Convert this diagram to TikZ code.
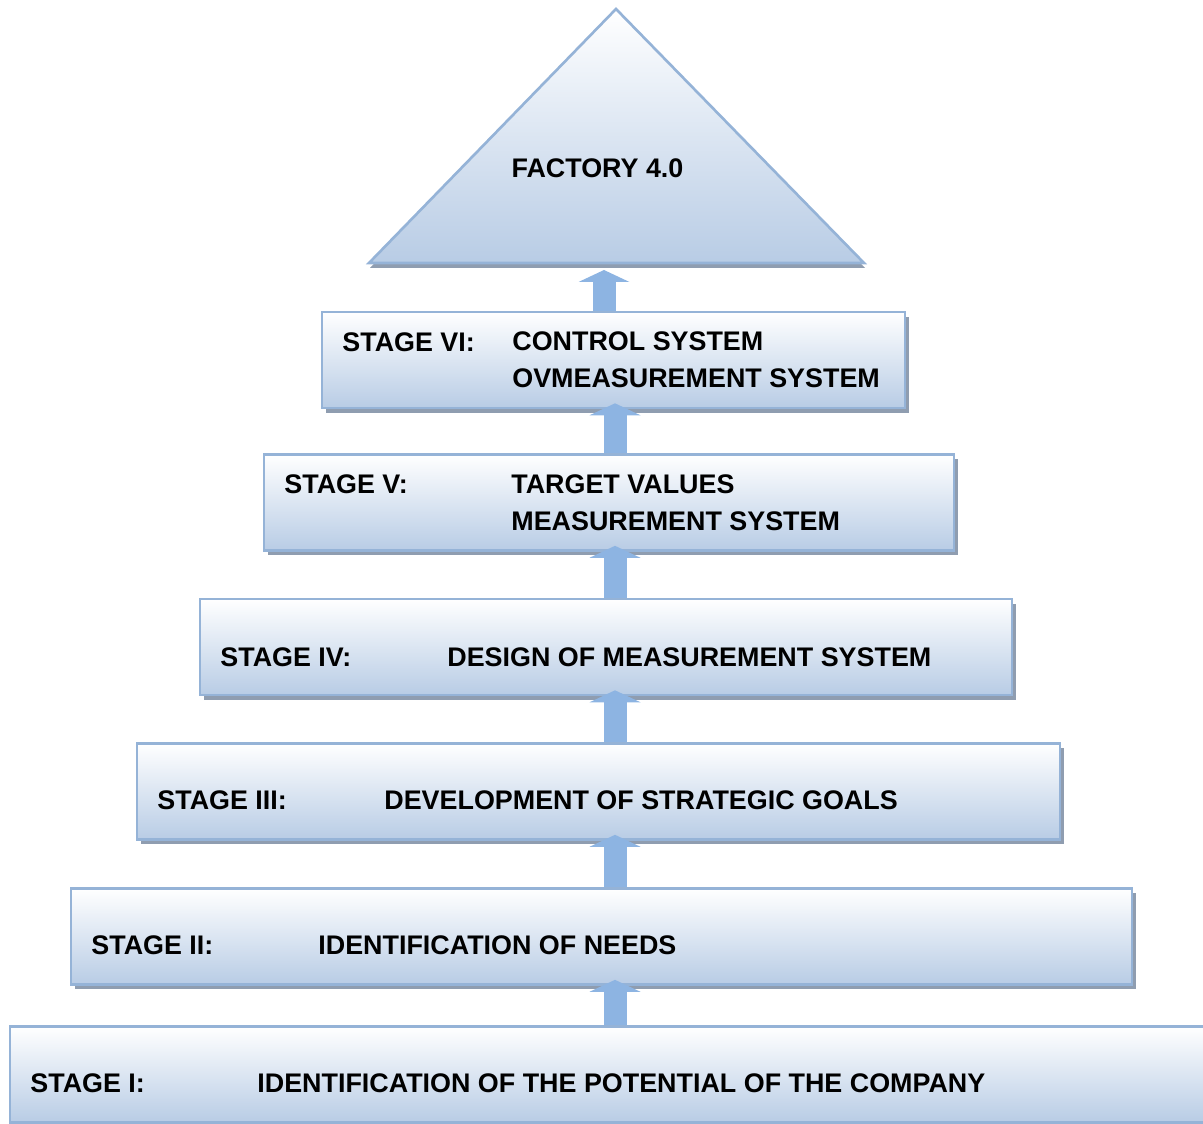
\documentclass[tikz,border=0pt]{standalone}
\usepackage{fontspec}
\setmainfont{Liberation Sans}
\usetikzlibrary{arrows.meta,shadows}
\definecolor{boxline}{RGB}{149,179,215}
\definecolor{boxfill}{RGB}{184,204,229}
\definecolor{boxshade}{RGB}{143,157,176}
\definecolor{arrowblue}{RGB}{141,180,226}
\tikzset{
  stagebox/.style={rectangle,draw=boxline,line width=0.75pt,top color=white,bottom color=boxfill,
    minimum height=0.96cm,inner sep=0pt,
    drop shadow={shadow xshift=0.04cm,shadow yshift=-0.05cm,fill=boxshade,opacity=1}},
  stagetxt/.style={inner sep=0pt,align=left,font=\bfseries\fontsize{7.65}{10.5}\selectfont},
  upar/.style={draw=arrowblue,line width=0.23cm,shorten >=-0.06cm,
    -{Triangle[width=0.51cm,length=0.12cm,line width=0pt]}}
}

\begin{document}
\begin{tikzpicture}
\useasboundingbox (0,0) rectangle (12.03,-11.24);
\shade[top color=white,bottom color=boxfill,draw=boxline,line width=0.75pt,
  drop shadow={shadow xshift=0.01cm,shadow yshift=-0.05cm,fill=boxshade,opacity=1}]
  (6.16,-0.09) -- (8.64,-2.63) -- (3.69,-2.63) -- cycle;
\node[stagetxt] (f40) at (5.975,-1.68) {FACTORY 4.0};
\coordinate (apex) at (6.04,-2.70);
\coordinate (ar) at (6.15,0);
\node[stagebox,minimum width=5.83cm] (s6) at (6.135,-3.60) {};
\node[stagebox,minimum width=6.90cm] (s5) at (6.09,-5.025) {};
\node[stagebox,minimum width=8.12cm] (s4) at (6.06,-6.47) {};
\node[stagebox,minimum width=9.23cm] (s3) at (5.985,-7.915) {};
\node[stagebox,minimum width=10.61cm] (s2) at (6.015,-9.365) {};
\node[stagebox,minimum width=12.10cm] (s1) at (6.15,-10.745) {};
\node[stagetxt,anchor=west] (l6) at ([xshift=0.21cm,yshift=0.18cm]s6.west) {STAGE VI:};
\node[stagetxt,anchor=west] (d6) at ([xshift=1.91cm]s6.west) {CONTROL SYSTEM\\OVMEASUREMENT SYSTEM};
\node[stagetxt,anchor=west] (l5) at ([xshift=0.21cm,yshift=0.18cm]s5.west) {STAGE V:};
\node[stagetxt,anchor=west] (d5) at ([xshift=2.48cm]s5.west) {TARGET VALUES\\MEASUREMENT SYSTEM};
\node[stagetxt,anchor=west] (l4) at ([xshift=0.21cm,yshift=-0.1cm]s4.west) {STAGE IV:};
\node[stagetxt,anchor=west] (d4) at ([xshift=2.48cm,yshift=-0.1cm]s4.west) {DESIGN OF MEASUREMENT SYSTEM};
\node[stagetxt,anchor=west] (l3) at ([xshift=0.21cm,yshift=-0.09cm]s3.west) {STAGE III:};
\node[stagetxt,anchor=west] (d3) at ([xshift=2.48cm,yshift=-0.09cm]s3.west) {DEVELOPMENT OF STRATEGIC GOALS};
\node[stagetxt,anchor=west] (l2) at ([xshift=0.21cm,yshift=-0.09cm]s2.west) {STAGE II:};
\node[stagetxt,anchor=west] (d2) at ([xshift=2.48cm,yshift=-0.09cm]s2.west) {IDENTIFICATION OF NEEDS};
\node[stagetxt,anchor=west] (l1) at ([xshift=0.21cm,yshift=-0.09cm]s1.west) {STAGE I:};
\node[stagetxt,anchor=west] (d1) at ([xshift=2.48cm,yshift=-0.09cm]s1.west) {IDENTIFICATION OF THE POTENTIAL OF THE COMPANY};
\draw[upar] (s1.north -| ar) -- (s2.south -| ar);
\draw[upar] (s2.north -| ar) -- (s3.south -| ar);
\draw[upar] (s3.north -| ar) -- (s4.south -| ar);
\draw[upar] (s4.north -| ar) -- (s5.south -| ar);
\draw[upar] (s5.north -| ar) -- (s6.south -| ar);
\draw[upar,shorten >=0pt] (s6.north -| apex) -- (apex);
\end{tikzpicture}
\end{document}
